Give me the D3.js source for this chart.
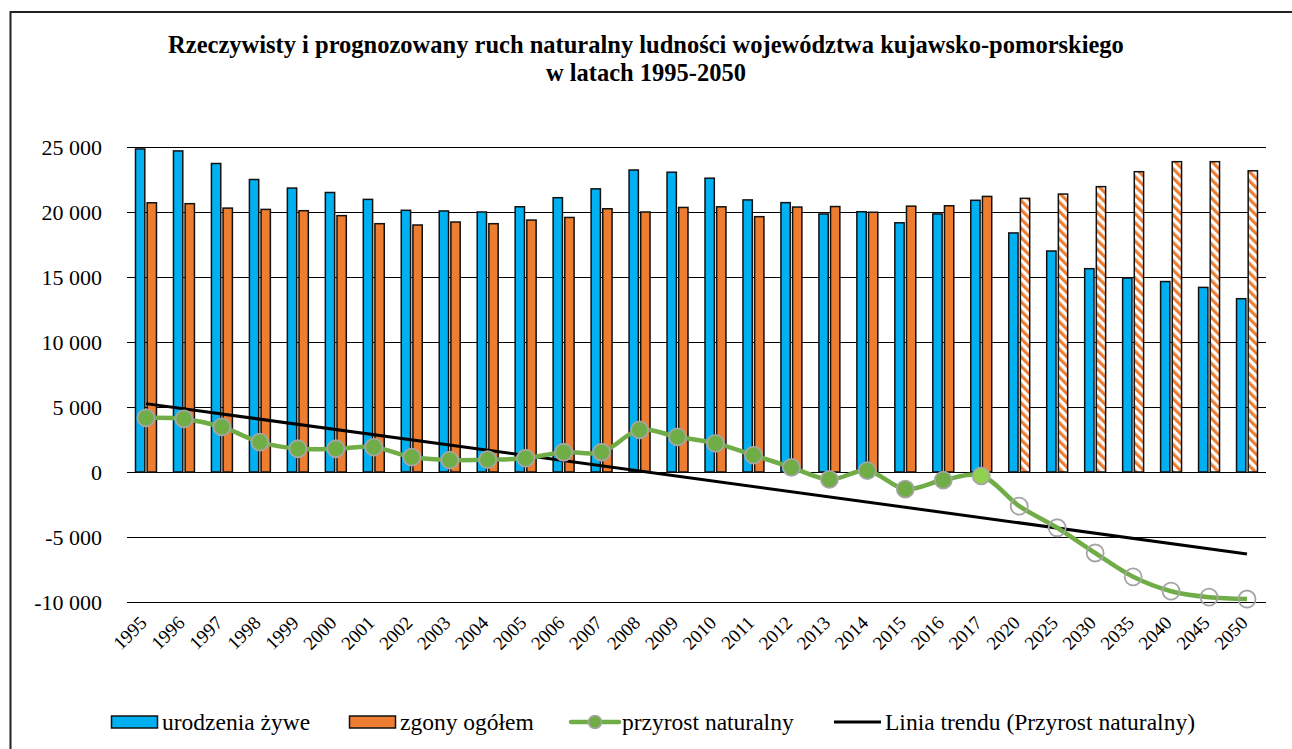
<!DOCTYPE html>
<meta charset="utf-8">
<head>
<style>
body { margin: 0; background: #fff; }
svg text { fill: #000; }
.title { font-size: 24.5px; font-weight: bold; }
.ytick { font-size: 22px; }
.xtick { font-size: 19px; }
.legend text { font-size: 23.5px; }
.grid line { stroke: #000; stroke-width: 1; shape-rendering: crispEdges; }
</style>
</head>
<body>
<script src="https://cdn.jsdelivr.net/npm/d3@7"></script>
<script>

// data
var years = ["1995","1996","1997","1998","1999","2000","2001","2002","2003","2004","2005","2006",
  "2007","2008","2009","2010","2011","2012","2013","2014","2015","2016","2017",
  "2020","2025","2030","2035","2040","2045","2050"];
var forecastYears = ["2020","2025","2030","2035","2040","2045","2050"];

var births = [24850,24700,23730,22500,21840,21500,20970,20130,20080,20000,20400,21100,
  21780,23230,23060,22600,20930,20720,19850,20020,19170,19850,20900,
  18390,17000,15640,14920,14650,14200,13330];
var deaths = [20710,20640,20300,20200,20100,19720,19100,19000,19230,19100,19380,19580,
  20250,20000,20350,20400,19640,20380,20420,19980,20450,20480,21200,
  21050,21380,21950,23100,23870,23870,23170];
var growth = [4160,4080,3470,2300,1790,1790,1910,1150,920,950,1060,1520,
  1520,3240,2700,2200,1300,360,-570,100,-1320,-620,-300,
  -2620,-4290,-6230,-8060,-9170,-9630,-9770];
var trendStart = 5260, trendEnd = -6300;   // linia trendu: 1995 -> 2050

var yTicks = [-10000,-5000,0,5000,10000,15000,20000,25000];
var seriesNames = ["urodzenia żywe", "zgony ogółem", "przyrost naturalny", "Linia trendu (Przyrost naturalny)"];
var titleLines = ["Rzeczywisty i prognozowany ruch naturalny ludności województwa kujawsko-pomorskiego",
  "w latach 1995-2050"];

var blue = "#00B0F0", orange = "#ED7D31", green = "#70AD47", lastGreen = "#92D050";

var W = 1292, H = 749;
var plot = {left: 127, right: 1266, top: 147, bottom: 602};

var svg = d3.select("body").append("svg")
  .attr("width", W)
  .attr("height", H)
  .attr("font-family", "'Liberation Serif', 'DejaVu Serif', serif");

// hatch for projected deaths
var defs = svg.append("defs");
var pat = defs.append("pattern")
  .attr("id", "hatch")
  .attr("patternUnits", "userSpaceOnUse")
  .attr("width", 6.5).attr("height", 6.5)
  .attr("patternTransform", "rotate(-45)");
pat.append("rect").attr("width", 6.5).attr("height", 6.5).attr("fill", "#fff");
pat.append("rect").attr("width", 3.2).attr("height", 6.5).attr("fill", orange);

// outer frame
svg.append("rect")
  .attr("x", 10.5).attr("y", 12)
  .attr("width", W + 20).attr("height", H + 20)
  .attr("fill", "none")
  .attr("stroke", "#222")
  .attr("stroke-width", 2);

// title
svg.selectAll(".title")
  .data(titleLines)
  .enter().append("text")
  .attr("class", "title")
  .attr("x", 646)
  .attr("y", function(d, i) { return 53 + i * 28; })
  .attr("text-anchor", "middle")
  .text(function(d) { return d; });

var y = d3.scaleLinear()
  .domain([-10000, 25000])
  .range([plot.bottom, plot.top]);

var x0 = d3.scaleBand()
  .domain(years)
  .range([plot.left, plot.right]);

var x1 = d3.scaleBand()
  .domain(["b", "d"])
  .range([0, x0.bandwidth()])
  .paddingInner(0.2)
  .paddingOuter(0.73);

// "25 000", "-5 000"
var fmt = function(v) { return d3.format(",")(v).replace(/,/g, " ").replace("−", "-"); };

// gridlines
svg.append("g").attr("class", "grid")
  .selectAll("line")
  .data(yTicks)
  .enter().append("line")
  .attr("x1", plot.left).attr("x2", plot.right)
  .attr("y1", function(d) { return Math.round(y(d)) + 0.5; })
  .attr("y2", function(d) { return Math.round(y(d)) + 0.5; });

svg.selectAll(".ytick")
  .data(yTicks)
  .enter().append("text")
  .attr("class", "ytick")
  .attr("x", 102)
  .attr("y", function(d) { return y(d) + 7.5; })
  .attr("text-anchor", "end")
  .text(function(d) { return fmt(d); });

// x labels (rotated)
svg.selectAll(".xtick")
  .data(years)
  .enter().append("text")
  .attr("class", "xtick")
  .attr("text-anchor", "end")
  .attr("transform", function(d) {
    var cx = x0(d) + x0.bandwidth() / 2 + 2;
    return "translate(" + cx + "," + 624 + ") rotate(-45)";
  })
  .text(function(d) { return d; });

// bars
var bars = svg.append("g");
bars.selectAll(".birth")
  .data(births)
  .enter().append("rect")
  .attr("class", "birth")
  .attr("x", function(d, i) { return x0(years[i]) + x1("b"); })
  .attr("width", x1.bandwidth())
  .attr("y", function(d) { return y(d); })
  .attr("height", function(d) { return y(0) - y(d); })
  .attr("fill", blue)
  .attr("stroke", "#111")
  .attr("stroke-width", 1.5);

bars.selectAll(".death")
  .data(deaths)
  .enter().append("rect")
  .attr("class", "death")
  .attr("x", function(d, i) { return x0(years[i]) + x1("d"); })
  .attr("width", x1.bandwidth())
  .attr("y", function(d) { return y(d); })
  .attr("height", function(d) { return y(0) - y(d); })
  .attr("fill", function(d, i) {
    return forecastYears.indexOf(years[i]) >= 0 ? "url(#hatch)" : orange;
  })
  .attr("stroke", "#111")
  .attr("stroke-width", 1.5);

var cx = function(i) { return x0(years[i]) + x0.bandwidth() / 2; };

// trend line
svg.append("line")
  .attr("x1", cx(0)).attr("y1", y(trendStart))
  .attr("x2", cx(years.length - 1)).attr("y2", y(trendEnd))
  .attr("stroke", "#000")
  .attr("stroke-width", 3);

// przyrost naturalny
var line = d3.line()
  .x(function(d, i) { return cx(i); })
  .y(function(d) { return y(d); })
  .curve(d3.curveCatmullRom.alpha(0.5));

svg.append("path")
  .datum(growth)
  .attr("d", line)
  .attr("fill", "none")
  .attr("stroke", green)
  .attr("stroke-width", 4.5)
  .attr("stroke-linejoin", "round");

svg.selectAll(".dot")
  .data(growth)
  .enter().append("circle")
  .attr("class", "dot")
  .attr("cx", function(d, i) { return cx(i); })
  .attr("cy", function(d) { return y(d); })
  .attr("r", 8.5)
  .attr("fill", function(d, i) {
    if (forecastYears.indexOf(years[i]) >= 0) return "none";
    return years[i] == "2017" ? lastGreen : green;
  })
  .attr("stroke", "#A5A5A5")
  .attr("stroke-width", 1.8);

// legend
var lg = svg.append("g").attr("class", "legend");
var ly = 722;
lg.append("rect").attr("x", 111.5).attr("y", 716).attr("width", 46).attr("height", 12)
  .attr("fill", blue).attr("stroke", "#111").attr("stroke-width", 1.5);
lg.append("text").attr("x", 162).attr("y", ly + 8).text(seriesNames[0]);

lg.append("rect").attr("x", 349.5).attr("y", 716).attr("width", 46).attr("height", 12)
  .attr("fill", orange).attr("stroke", "#111").attr("stroke-width", 1.5);
lg.append("text").attr("x", 400).attr("y", ly + 8).text(seriesNames[1]);

lg.append("line").attr("x1", 571).attr("x2", 619).attr("y1", ly).attr("y2", ly)
  .attr("stroke", green).attr("stroke-width", 4.5).attr("stroke-linecap", "round");
lg.append("circle").attr("cx", 595).attr("cy", ly).attr("r", 6.5)
  .attr("fill", green).attr("stroke", "#A5A5A5").attr("stroke-width", 1.5);
lg.append("text").attr("x", 622).attr("y", ly + 8).text(seriesNames[2]);

lg.append("line").attr("x1", 834).attr("x2", 881).attr("y1", ly).attr("y2", ly)
  .attr("stroke", "#000").attr("stroke-width", 3);
lg.append("text").attr("x", 885).attr("y", ly + 8).text(seriesNames[3]);

</script>
</body>
